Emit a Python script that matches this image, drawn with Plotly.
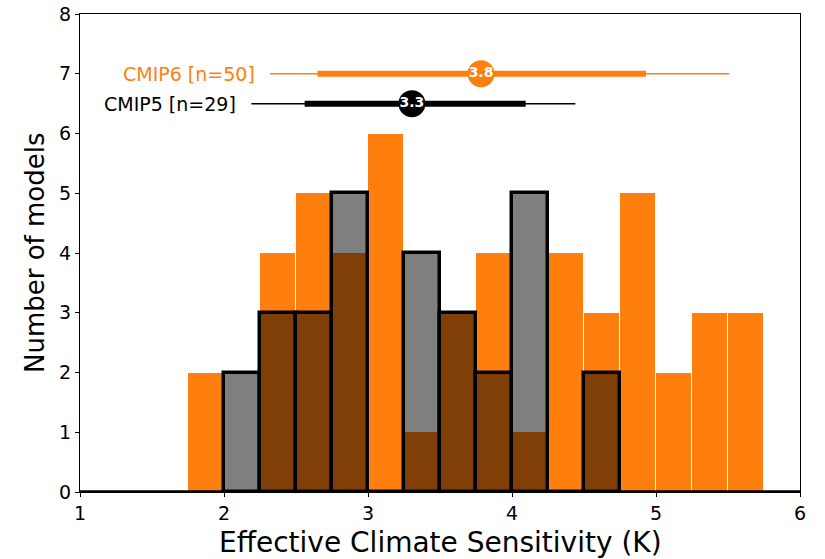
import plotly.graph_objects as go

# ---- data ----
bin_width = 0.25
cmip6_bin_left = [1.75, 2.0, 2.25, 2.5, 2.75, 3.0, 3.25, 3.5, 3.75, 4.0, 4.25, 4.5, 4.75, 5.0, 5.25, 5.5]
cmip6_counts = [2, 0, 4, 5, 4, 6, 1, 3, 4, 1, 4, 3, 5, 2, 3, 3]
cmip5_bin_left = [2.0, 2.25, 2.5, 2.75, 3.0, 3.25, 3.5, 3.75, 4.0, 4.25, 4.5]
cmip5_counts = [2, 3, 3, 5, 0, 4, 3, 2, 5, 0, 2]

# summary ranges: [outer_lo, inner_lo, median, inner_hi, outer_hi]
cmip6_summary = [2.32, 2.65, 3.785, 4.93, 5.51]
cmip5_summary = [2.19, 2.56, 3.305, 4.095, 4.44]
cmip6_row = 7.0
cmip5_row = 6.5
cmip6_label = "CMIP6 [n=50]"
cmip5_label = "CMIP5 [n=29]"
cmip6_median_text = "3.8"
cmip5_median_text = "3.3"

x_ticks = [1, 2, 3, 4, 5, 6]
y_ticks = [0, 1, 2, 3, 4, 5, 6, 7, 8]
x_title = "Effective Climate Sensitivity (K)"
y_title = "Number of models"

ORANGE = "#ff7f0e"
BLACK = "#000000"
FONT = "DejaVu Sans"

fig = go.Figure()

fig.add_trace(go.Bar(
    x=cmip6_bin_left, y=cmip6_counts, width=bin_width, offset=0,
    marker=dict(color=ORANGE, line=dict(color="white", width=1)),
    showlegend=False, hoverinfo="skip",
))
fig.add_trace(go.Bar(
    x=cmip5_bin_left, y=cmip5_counts, width=bin_width, offset=0,
    marker=dict(color="rgba(0,0,0,0.5)", line=dict(color=BLACK, width=3.5)),
    showlegend=False, hoverinfo="skip",
))


def add_summary(s, row, color, label, med_text):
    fig.add_trace(go.Scatter(x=[s[0], s[4]], y=[row, row], mode="lines",
                             line=dict(color=color, width=1.5), showlegend=False, hoverinfo="skip"))
    fig.add_trace(go.Scatter(x=[s[1], s[3]], y=[row, row], mode="lines",
                             line=dict(color=color, width=6), showlegend=False, hoverinfo="skip"))
    fig.add_trace(go.Scatter(x=[s[2]], y=[row], mode="markers+text",
                             marker=dict(color=color, size=27, line=dict(width=0)),
                             text=[med_text], textposition="middle center",
                             textfont=dict(family=FONT, size=14, color="white", weight="bold"),
                             showlegend=False, hoverinfo="skip"))
    fig.add_annotation(x=s[0] - 0.09, y=row, text=label, showarrow=False,
                       xanchor="right", yanchor="middle",
                       font=dict(family=FONT, size=19, color=color))


add_summary(cmip6_summary, cmip6_row, ORANGE, cmip6_label, cmip6_median_text)
add_summary(cmip5_summary, cmip5_row, BLACK, cmip5_label, cmip5_median_text)

# thick baseline (zero-height histogram edges)
fig.add_shape(type="line", xref="paper", x0=0, x1=1, yref="y", y0=0, y1=0,
              line=dict(color=BLACK, width=3.5), layer="above")

# axis titles
fig.add_annotation(xref="paper", yref="paper", x=0.5, y=0, yshift=-50,
                   xanchor="center", yanchor="middle", showarrow=False,
                   text=x_title, font=dict(family=FONT, size=28, color="black"))
fig.add_annotation(xref="paper", yref="paper", x=0, y=0.5, xshift=-45,
                   xanchor="center", yanchor="middle", showarrow=False, textangle=-90,
                   text=y_title, font=dict(family=FONT, size=26, color="black"))

fig.update_layout(
    width=825, height=559,
    margin=dict(l=80, r=25, t=14, b=67),
    paper_bgcolor="white", plot_bgcolor="white",
    barmode="overlay", bargap=0,
    font=dict(family=FONT, color="black"),
    showlegend=False,
)
fig.update_xaxes(
    range=[1, 6], tickvals=x_ticks, ticktext=[str(v) for v in x_ticks],
    showgrid=False, zeroline=False, automargin=False,
    showline=True, linecolor="black", linewidth=1, mirror=True,
    ticks="outside", ticklen=4, tickcolor="black", tickwidth=1,
    tickfont=dict(family=FONT, size=19), ticklabeloverflow="allow",
)
fig.update_yaxes(
    range=[0, 8], tickvals=y_ticks, ticktext=[str(v) for v in y_ticks],
    showgrid=False, zeroline=False, automargin=False,
    showline=True, linecolor="black", linewidth=1, mirror=True,
    ticks="outside", ticklen=4, tickcolor="black", tickwidth=1,
    tickfont=dict(family=FONT, size=19), ticklabeloverflow="allow",
)

# remove the browser's default page margin so the 825x559 figure fills the window
fig.write_html("out.html",
               config={"displayModeBar": False},
               post_script="document.body.style.margin='0';document.body.style.overflow='hidden';")
